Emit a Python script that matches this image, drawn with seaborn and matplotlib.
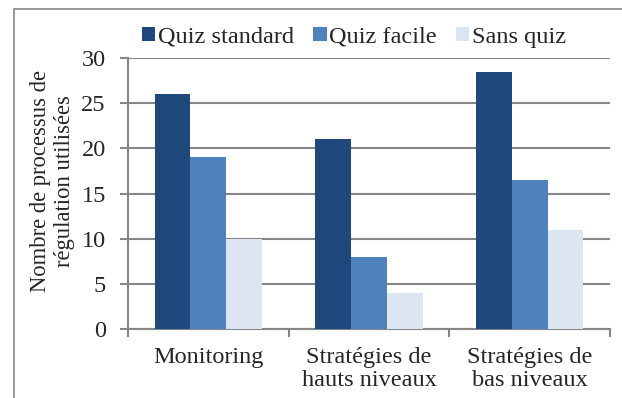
import matplotlib
matplotlib.use("Agg")
import matplotlib.pyplot as plt
from matplotlib.patches import Rectangle
from matplotlib import font_manager
import seaborn as sns
import pandas as pd

# Data
categories = ["Monitoring", "Stratégies de\nhauts niveaux", "Stratégies de\nbas niveaux"]
groups = ["Quiz standard", "Quiz facile", "Sans quiz"]
quiz_standard = [26, 21, 28.5]
quiz_facile = [19, 8, 16.5]
sans_quiz = [10, 4, 11]
y_ticks = [0, 5, 10, 15, 20, 25, 30]
y_label = "Nombre de processus de\nrégulation utilisées"

colors = ["#1F497D", "#4F81BD", "#DCE6F2"]
grid_col = "#868686"

rows = []
for g, vals in zip(groups, [quiz_standard, quiz_facile, sans_quiz]):
    for c, v in zip(categories, vals):
        rows.append({"categorie": c, "groupe": g, "valeur": v})
df = pd.DataFrame(rows)

sns.set_theme(style="white")
serif_names = [f.name for f in font_manager.fontManager.ttflist if "Serif" in f.name]
main_font = "Liberation Serif" if "Liberation Serif" in serif_names else "DejaVu Serif"
plt.rcParams["font.family"] = "serif"
plt.rcParams["font.serif"] = [main_font, "DejaVu Serif"]
FS = 17.5
plt.rcParams["font.size"] = FS

fig = plt.figure(figsize=(6.22, 3.98), dpi=100)
ax = fig.add_axes([128 / 622, 1 - 329 / 398, (610 - 128) / 622, (329 - 58) / 398])

sns.barplot(data=df, x="categorie", y="valeur", hue="groupe", order=categories,
            hue_order=groups, palette=colors, width=2 / 3, gap=0, saturation=1,
            edgecolor="none", linewidth=0, ax=ax, legend=False, zorder=3)

ax.set_xlim(-0.5, 2.5)
ax.set_ylim(0, 30)
ax.set_yticks(y_ticks)
ax.set_yticklabels([str(t) for t in y_ticks], fontsize=FS, family=main_font)
ax.yaxis.grid(True, color=grid_col, linewidth=1.5, zorder=0)
ax.set_axisbelow(True)

ax.set_xticks(range(len(categories)))
ax.set_xticklabels(categories, fontsize=FS, linespacing=1.12, family=main_font)
ax.set_xticks([-0.5, 0.5, 1.5, 2.5], minor=True)
ax.tick_params(axis="x", which="major", length=0, pad=13)
ax.tick_params(axis="x", which="minor", length=6, width=1.5, color=grid_col, direction="out")
ax.tick_params(axis="y", length=6, width=1.5, color=grid_col, direction="out", pad=10)
ax.xaxis.set_tick_params(which="minor", bottom=True)
ax.yaxis.set_tick_params(left=True)

for side in ["top", "right"]:
    ax.spines[side].set_visible(False)
for side in ["left", "bottom"]:
    ax.spines[side].set_color(grid_col)
    ax.spines[side].set_linewidth(1.5)

ax.set_xlabel("")
ax.set_ylabel(y_label, fontsize=16.3, linespacing=1.2, family=main_font)
ax.yaxis.set_label_coords(-(128 - 75) / (610 - 128), 0.545)

# Legend across the top
handles = [Rectangle((0, 0), 1, 1, facecolor=c, edgecolor="none") for c in colors]
fig.legend(handles, groups, loc="center", bbox_to_anchor=(354 / 622, 1 - 37 / 398),
           ncol=3, frameon=False, prop={"family": main_font, "size": FS},
           handlelength=0.55, handleheight=0.55,
           handletextpad=0.1, columnspacing=0.8, borderpad=0)

# Chart frame
fig.patches.append(Rectangle((14 / 622, -0.2), 1.2, 1 - 9 / 398 + 0.2,
                             transform=fig.transFigure, fill=False,
                             edgecolor=grid_col, linewidth=1.2))

fig.savefig("out.png", dpi=100)
